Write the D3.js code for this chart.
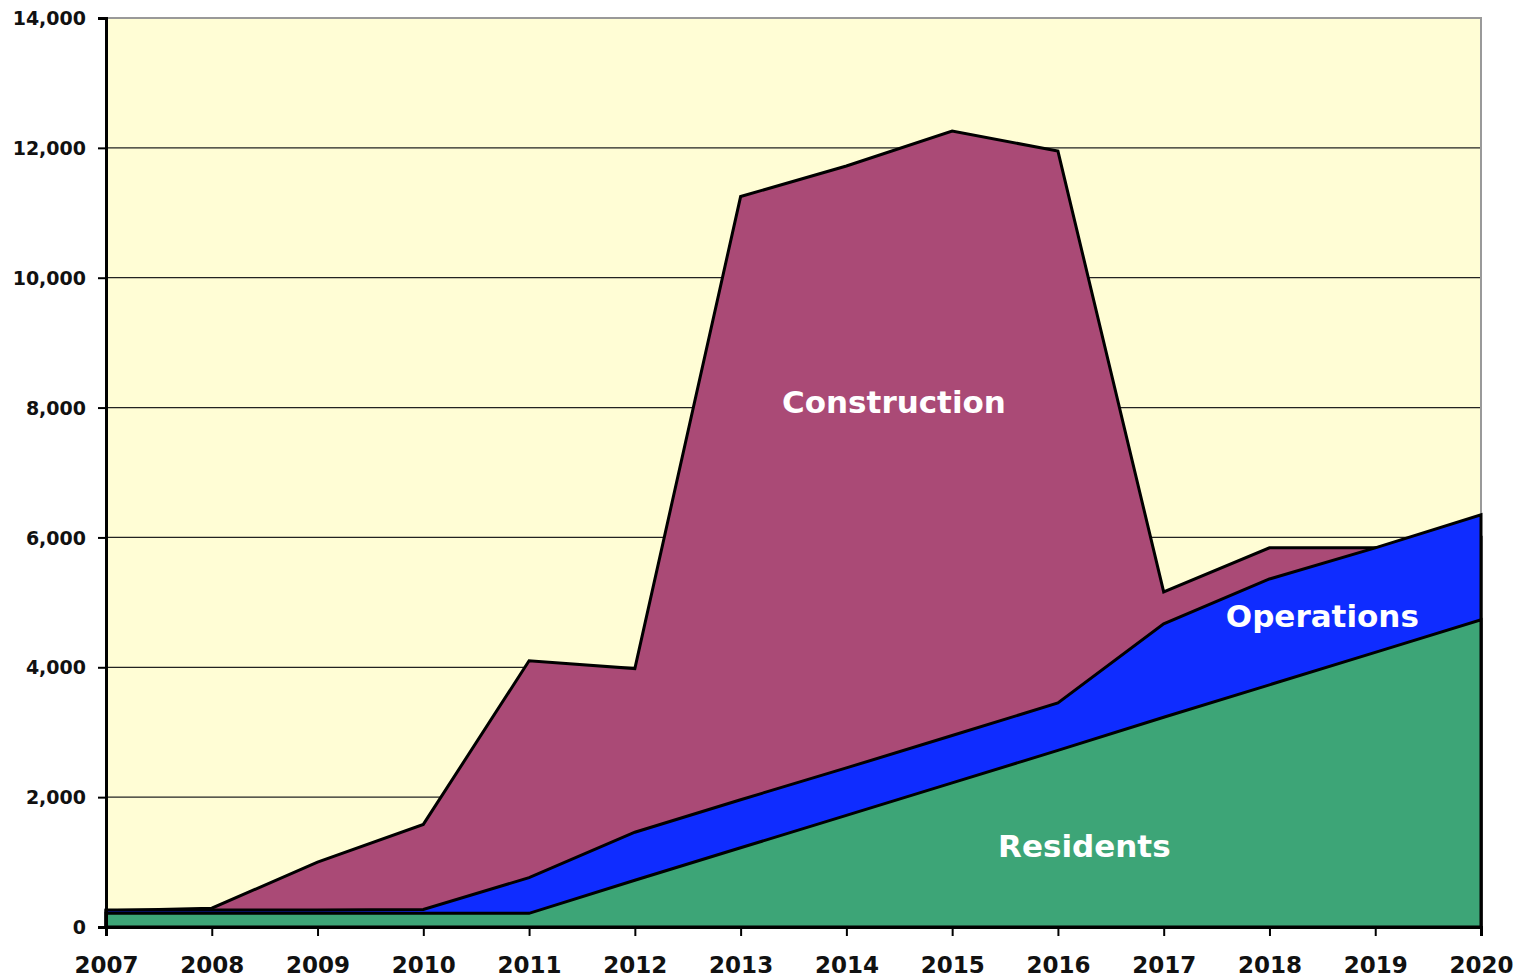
<!DOCTYPE html>
<html>
<head>
<meta charset="utf-8">
<script src="https://cdn.jsdelivr.net/npm/d3@7"></script>
<style>
  body { margin: 0; background: #fff; }
  svg text { font-family: "DejaVu Sans", Verdana, sans-serif; font-weight: bold; }
</style>
</head>
<body>
<div id="chart"></div>
<script>
// data (cumulative totals, drawn overlapping)
const years = [2007, 2008, 2009, 2010, 2011, 2012, 2013, 2014, 2015, 2016, 2017, 2018, 2019, 2020];
const construction = [250, 290, 1000, 1580, 4100, 3980, 11250, 11720, 12260, 11950, 5160, 5840, 5840, 6000];
const operations = [260, 260, 260, 270, 760, 1460, 1960, 2450, 2950, 3450, 4670, 5360, 5840, 6350];
const residents = [210, 210, 210, 210, 210, 720, 1220, 1720, 2220, 2720, 3230, 3730, 4230, 4730];
const yTicks = [0, 2000, 4000, 6000, 8000, 10000, 12000, 14000];

const series = [
    {name: "Construction", values: construction, color: "#AA4A76", lx: 2014.45, ly: 7915},
    {name: "Operations", values: operations, color: "#0F2CFF", lx: 2018.5, ly: 4620},
    {name: "Residents", values: residents, color: "#3DA577", lx: 2016.25, ly: 1080}
];

const W = 1522, H = 979;
const margin = {top: 18, right: 41, bottom: 52, left: 106};
const width = W - margin.left - margin.right;
const height = H - margin.top - margin.bottom;

const svg = d3.select("#chart").append("svg")
    .attr("width", W)
    .attr("height", H);

const g = svg.append("g")
    .attr("transform", "translate(" + margin.left + "," + margin.top + ")");

const x = d3.scaleLinear().domain([2007, 2020]).range([0, width]);
const y = d3.scaleLinear().domain([0, 14000]).range([height, 0]);

// plot background
g.append("rect")
    .attr("width", width)
    .attr("height", height)
    .attr("fill", "#FFFDD5");

// gridlines
g.selectAll(".grid")
    .data(yTicks.filter(d => d > 0 && d < 14000))
    .enter().append("line")
    .attr("x1", 0).attr("x2", width)
    .attr("y1", d => y(d)).attr("y2", d => y(d))
    .attr("stroke", "#222")
    .attr("stroke-width", 1.3);

// top & right frame
g.append("path")
    .attr("d", "M0," + y(14000) + "H" + width + "V" + height)
    .attr("fill", "none")
    .attr("stroke", "#999")
    .attr("stroke-width", 2);

const area = d3.area()
    .x((d, i) => x(years[i]))
    .y0(y(0))
    .y1(d => y(d));

series.forEach(s => {
    g.append("path")
        .datum(s.values)
        .attr("d", area)
        .attr("fill", s.color)
        .attr("stroke", "#000")
        .attr("stroke-width", 3)
        .attr("stroke-linejoin", "miter");
});

// labels in the areas
series.forEach(s => {
    g.append("text")
        .attr("x", x(s.lx))
        .attr("y", y(s.ly))
        .attr("text-anchor", "middle")
        .attr("font-size", 31)
        .attr("fill", "#fff")
        .text(s.name);
});

// axes
const yAxis = g.append("g")
    .call(d3.axisLeft(y).tickValues(yTicks).tickSize(8).tickPadding(12).tickFormat(d3.format(",")));
const xAxis = g.append("g")
    .attr("transform", "translate(0," + height + ")")
    .call(d3.axisBottom(x).tickValues(years).tickSize(9).tickPadding(21).tickFormat(d3.format("d")));

[yAxis, xAxis].forEach(a => {
    a.select(".domain").attr("stroke", "#000").attr("stroke-width", 3);
    a.selectAll(".tick line").attr("stroke", "#000").attr("stroke-width", 2);
    a.selectAll(".tick text").attr("fill", "#111");
});
yAxis.selectAll(".tick text").attr("font-size", 19).attr("dy", "0.35em");
xAxis.selectAll(".tick text").attr("font-size", 23);
</script>
</body>
</html>
